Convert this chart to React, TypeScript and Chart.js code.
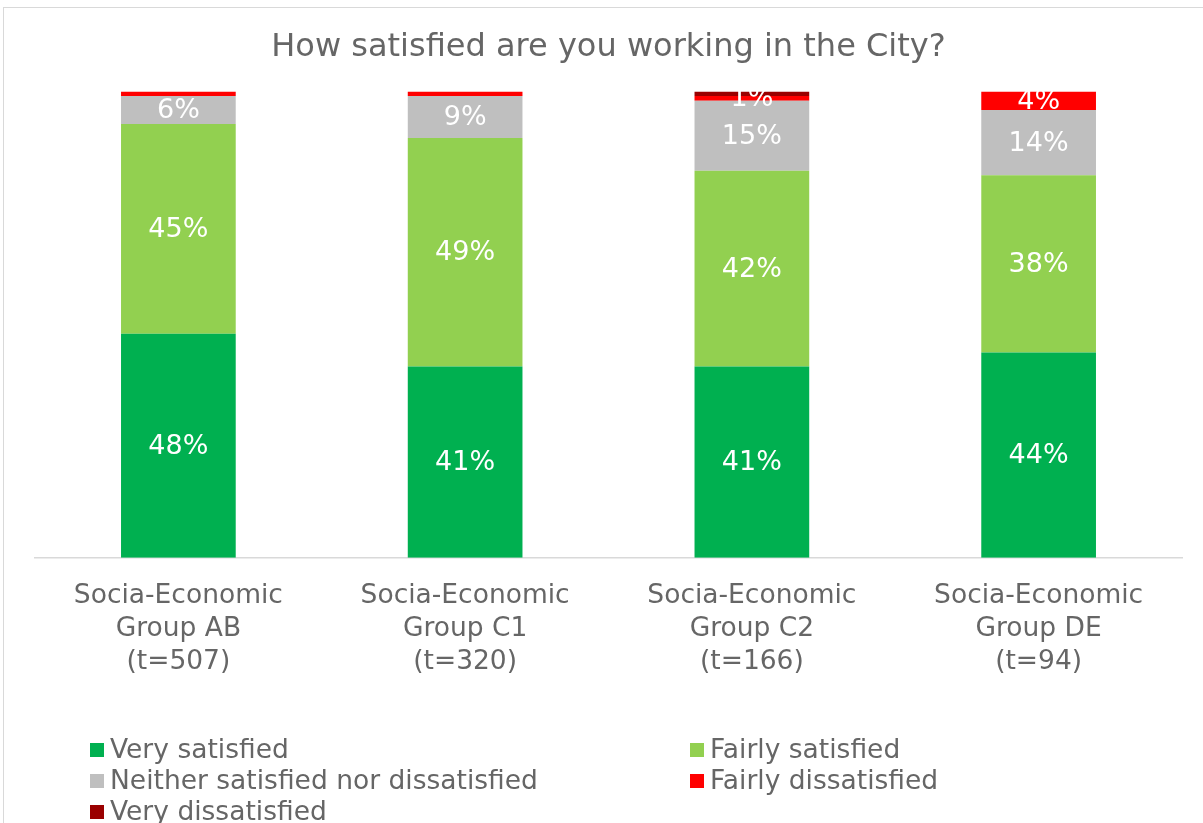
import React, { useEffect, useRef } from "react";
import { Chart, registerables } from "chart.js";

Chart.register(...registerables);

const categories = [
  ["Socia-Economic", "Group AB", "(t=507)"],
  ["Socia-Economic", "Group C1", "(t=320)"],
  ["Socia-Economic", "Group C2", "(t=166)"],
  ["Socia-Economic", "Group DE", "(t=94)"],
];
const seriesNames = [
  "Very satisfied",
  "Fairly satisfied",
  "Neither satisfied nor dissatisfied",
  "Fairly dissatisfied",
  "Very dissatisfied",
];
const verySatisfied = [48, 41, 41, 44];
const fairlySatisfied = [45, 49, 42, 38];
const neitherValues = [6, 9, 15, 14];
const fairlyDissatisfied = [1, 1, 1, 4];
const veryDissatisfied = [0, 0, 1, 0];
const seriesColors = ["#00B050", "#92D050", "#BFBFBF", "#FF0000", "#9A0000"];
// labels shown for small segments (dataset index, category index)
const extraLabels = [[3, 2]];

const TEXT = "#666666";
const FONT = "'DejaVu Sans', Verdana, sans-serif";

const labelPlugin = {
  id: "segLabels",
  afterDatasetsDraw(chart: any) {
    const ctx = chart.ctx;
    ctx.save();
    ctx.fillStyle = "#FFFFFF";
    ctx.font = `27px ${FONT}`;
    ctx.textAlign = "center";
    ctx.textBaseline = "middle";
    chart.data.datasets.forEach((ds: any, di: number) => {
      const meta = chart.getDatasetMeta(di);
      meta.data.forEach((el: any, i: number) => {
        const v = ds.data[i];
        const show = v >= 4 || extraLabels.some(([a, b]) => a === di && b === i);
        if (!show) return;
        const p = el.getCenterPoint();
        ctx.fillText(`${v}%`, p.x, p.y + 1);
      });
    });
    ctx.restore();
  },
};

const legendPlugin = {
  id: "gridLegend",
  afterDraw(chart: any) {
    const ctx = chart.ctx;
    ctx.save();
    ctx.font = `26.5px ${FONT}`;
    ctx.textBaseline = "middle";
    ctx.textAlign = "left";
    const cols = [86, 686];
    const rows = [742, 773, 804];
    seriesNames.forEach((name, i) => {
      const x = cols[i % 2];
      const y = rows[Math.floor(i / 2)];
      ctx.fillStyle = seriesColors[i];
      ctx.fillRect(x, y - 7, 14, 14);
      ctx.fillStyle = TEXT;
      ctx.fillText(name, x + 20, y + 1);
    });
    ctx.restore();
  },
};

export default function App() {
  const ref = useRef<HTMLCanvasElement>(null);
  useEffect(() => {
    document.body.style.margin = "0";
    document.body.style.overflow = "hidden";
    const values = [verySatisfied, fairlySatisfied, neitherValues, fairlyDissatisfied, veryDissatisfied];
    const chart = new Chart(ref.current!, {
      type: "bar",
      data: {
        labels: categories,
        datasets: seriesNames.map((n, i) => ({
          label: n,
          data: values[i],
          backgroundColor: seriesColors[i],
          borderWidth: 0,
          categoryPercentage: 1,
          barPercentage: 0.4,
        })),
      },
      options: {
        animation: false,
        responsive: false,
        maintainAspectRatio: false,
        layout: { padding: { left: 31, right: 22, top: 0, bottom: 122 } },
        plugins: {
          legend: { display: false },
          tooltip: { enabled: false },
          title: {
            display: true,
            text: "How satisfied are you working in the City?",
            color: TEXT,
            font: { family: FONT, size: 32, weight: "normal", lineHeight: 1.2 },
            padding: { top: 20, bottom: 25 },
          },
        },
        scales: {
          x: {
            stacked: true,
            grid: { display: false, drawTicks: false },
            border: { display: true, color: "#D9D9D9", width: 1.5 },
            ticks: {
              color: TEXT,
              padding: 22,
              maxRotation: 0,
              autoSkip: false,
              font: { family: FONT, size: 26.5, lineHeight: 1.25 },
            },
          },
          y: {
            stacked: true,
            display: false,
            min: 0,
            max: 100,
          },
        },
      },
      plugins: [labelPlugin, legendPlugin],
    });
    return () => chart.destroy();
  }, []);
  return (
    <div
      style={{
        position: "absolute",
        left: 3,
        top: 7,
        border: "1px solid #D9D9D9",
        borderRight: "none",
        borderBottom: "none",
        width: 1200,
        height: 815,
        background: "#fff",
      }}
    >
      <canvas ref={ref} width={1200} height={815} style={{ display: "block", width: 1200, height: 815 }} />
    </div>
  );
}
